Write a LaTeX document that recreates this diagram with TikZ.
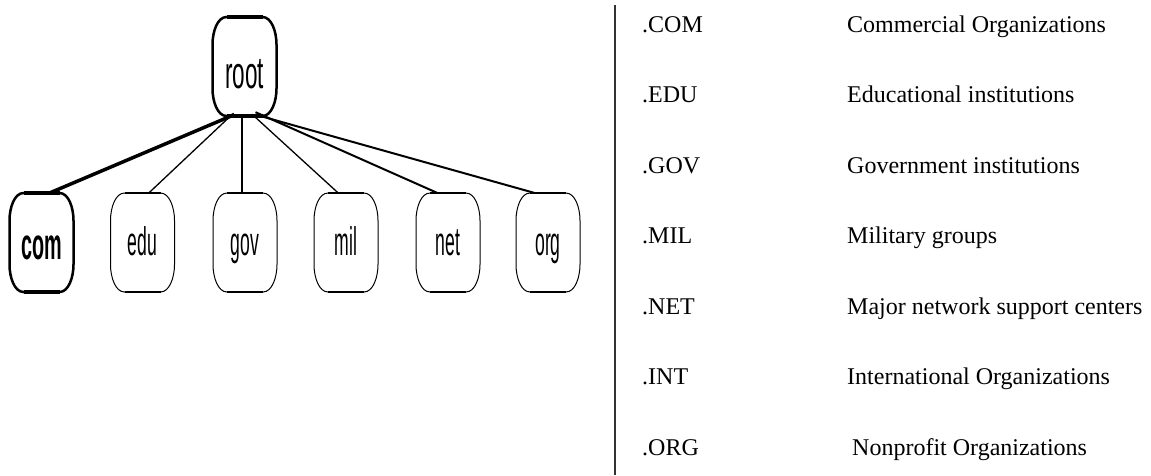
\documentclass[tikz,border=0pt]{standalone}
\usepackage{fontspec}
\usepackage{graphicx}
\setmainfont{Liberation Serif}
\newfontfamily\boxfont{Liberation Sans}
\newcommand\thinlbl[1]{{\boxfont\fontsize{40}{40}\selectfont\scalebox{0.44}[1]{#1}}}
\newcommand\boldlbl[1]{{\boxfont\fontsize{45}{45}\selectfont\scalebox{0.5}[1]{#1}}}
\newcommand\heavylbl[1]{{\boxfont\bfseries\fontsize{44}{44}\selectfont\scalebox{0.45}[1]{#1}}}
\newcommand\barrelshape[2]{%
  \draw[#2,shift={(#1)}] (-18,-49.5) -- (18,-49.5)
    .. controls (27,-49.5) and (32,-35) .. (32,-22) -- (32,22)
    .. controls (32,35) and (27,49.5) .. (18,49.5) -- (-18,49.5)
    .. controls (-27,49.5) and (-32,35) .. (-32,22) -- (-32,-22)
    .. controls (-32,-35) and (-27,-49.5) .. cycle;}
\newcommand\barrelbars[2]{%
  \draw[#2,shift={(#1)}] (-18,-49.5) -- (18,-49.5) (-18,49.5) -- (18,49.5);}
\tikzset{
  box/.style={minimum width=64pt,minimum height=99pt,inner sep=0pt,text depth=0pt,text height=25pt},
  comtext/.style={text height=33pt},
  roottext/.style={text height=43pt},
  thinside/.style={line width=1pt},
  thinbar/.style={line width=2.5pt},
  boldside/.style={line width=2.5pt},
  boldbar/.style={line width=4pt},
  thinlink/.style={line width=1.3pt},
  midlink/.style={line width=2pt},
  boldlink/.style={line width=3.5pt},
  code/.style={anchor=base west,inner sep=0pt,font=\fontsize{24}{24}\selectfont},
  rule/.style={line width=2pt,draw=black!80}
}
\begin{document}
\begin{tikzpicture}[x=1pt,y=-1pt]
\useasboundingbox (0,0) rectangle (1151,475);
% tree nodes
\node[box,roottext] (root) at (244.5,66.5) {\boldlbl{root}};
\node[box,comtext] (com) at (41.5,242.5) {\heavylbl{com}};
\node[box] (edu) at (142.5,242.5) {\thinlbl{edu}};
\node[box] (gov) at (245,242.5) {\thinlbl{gov}};
\node[box] (mil) at (346,242.5) {\thinlbl{mil}};
\node[box] (net) at (448,242.5) {\thinlbl{net}};
\node[box] (org) at (548,242.5) {\thinlbl{org}};
% shapes
\barrelshape{root}{boldside}\barrelbars{root}{boldbar}
\barrelshape{com}{boldside}\barrelbars{com}{boldbar}
\foreach \n in {edu,gov,mil,net,org}{\barrelshape{\n}{thinside}\barrelbars{\n}{thinbar}}
% connectors
\draw[boldlink] ([xshift=-11.5pt,yshift=1pt]root.south) -- ([xshift=8.5pt]com.north);
\draw[thinlink] ([xshift=-11pt,yshift=3pt]root.south) -- ([xshift=6.5pt]edu.north);
\draw[thinlink] ([xshift=-2.5pt]root.south) -- ([xshift=-3pt]gov.north);
\draw[thinlink] ([xshift=7.5pt,yshift=2pt]root.south) -- ([xshift=-8pt]mil.north);
\draw[midlink] ([xshift=11pt,yshift=4pt]root.south) -- ([xshift=-11pt]net.north);
\draw[midlink] ([xshift=13pt,yshift=1pt]root.south) -- ([xshift=-14pt]org.north);
% separator
\coordinate (ruletop) at (615,5);
\coordinate (rulebot) at (615,475);
\draw[rule] (ruletop) -- (rulebot);
% legend
\node[code] (c1) at (642,32) {.COM};
\node[code] (d1) at (847,32) {Commercial Organizations};
\node[code] (c2) at (642,102.5) {.EDU};
\node[code] (d2) at (847,102.5) {Educational institutions};
\node[code] (c3) at (642,173) {.GOV};
\node[code] (d3) at (847,173) {Government institutions};
\node[code] (c4) at (642,243.5) {.MIL};
\node[code] (d4) at (847,243.5) {Military groups};
\node[code] (c5) at (642,314) {.NET};
\node[code] (d5) at (847,314) {Major network support centers};
\node[code] (c6) at (642,384.5) {.INT};
\node[code] (d6) at (847,384.5) {International Organizations};
\node[code] (c7) at (642,455) {.ORG};
\node[code] (d7) at (852,455) {Nonprofit Organizations};
\end{tikzpicture}
\end{document}
